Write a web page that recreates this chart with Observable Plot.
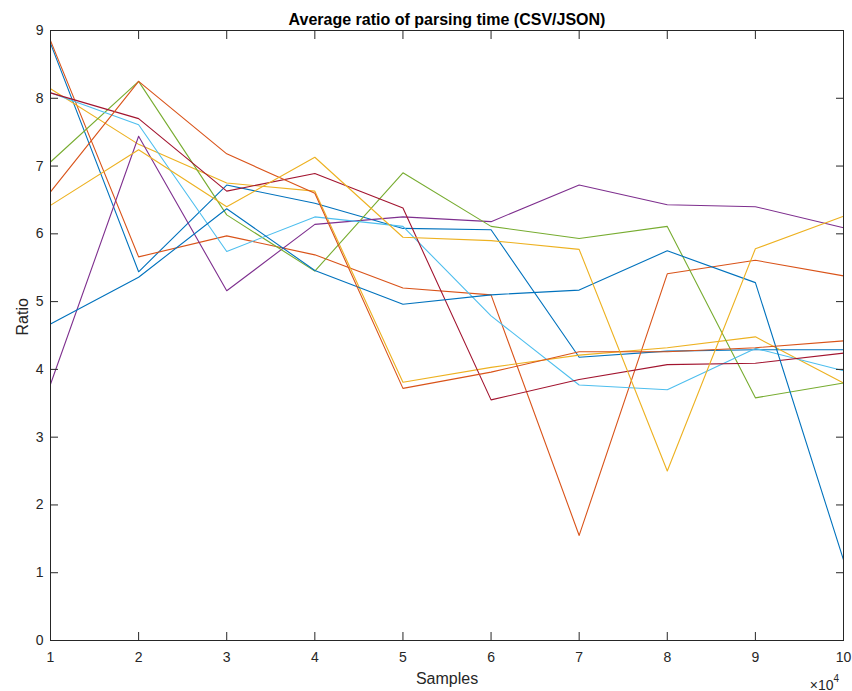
<!DOCTYPE html>
<html><head><meta charset="utf-8">
<script src="https://cdn.jsdelivr.net/npm/d3@7"></script>
<script src="https://cdn.jsdelivr.net/npm/@observablehq/plot@0.6"></script>
<style>
body{margin:0;background:#fff}
#chart svg{font-family:"Liberation Sans",Arial,Helvetica,sans-serif;}
</style>
</head><body><div id="chart"></div>
<script>
// x values (samples) and tick labels
const samples = [10000, 20000, 30000, 40000, 50000, 60000, 70000, 80000, 90000, 100000];
const xTicks = [10000, 20000, 30000, 40000, 50000, 60000, 70000, 80000, 90000, 100000];
const yTicks = [0, 1, 2, 3, 4, 5, 6, 7, 8, 9];

// series values (ratio)
const s1  = [8.81, 5.44, 6.72, 6.45, 6.08, 6.06, 4.18, 4.27, 4.29, 4.29];
const s2  = [8.85, 5.66, 5.97, 5.69, 5.20, 5.10, 1.55, 5.41, 5.61, 5.38];
const s3  = [8.14, 7.32, 6.75, 6.63, 3.81, 4.03, 4.21, 4.32, 4.48, 3.80];
const s4  = [3.78, 7.44, 5.16, 6.14, 6.25, 6.18, 6.72, 6.43, 6.40, 6.09];
const s5  = [7.06, 8.25, 6.28, 5.45, 6.90, 6.11, 5.93, 6.11, 3.58, 3.80];
const s6  = [8.08, 7.61, 5.74, 6.25, 6.11, 4.79, 3.77, 3.70, 4.31, 3.98];
const s7  = [8.08, 7.70, 6.63, 6.89, 6.38, 3.55, 3.85, 4.07, 4.09, 4.24];
const s8  = [4.67, 5.36, 6.37, 5.46, 4.96, 5.10, 5.17, 5.75, 5.28, 1.19];
const s9  = [6.62, 8.25, 7.18, 6.60, 3.72, 3.96, 4.26, 4.26, 4.32, 4.42];
const s10 = [6.42, 7.24, 6.40, 7.13, 5.95, 5.90, 5.77, 2.50, 5.78, 6.26];

const seriesNames = ["s1","s2","s3","s4","s5","s6","s7","s8","s9","s10"];
const seriesValues = [s1, s2, s3, s4, s5, s6, s7, s8, s9, s10];
const colors = ["#0072BD","#D95319","#EDB120","#7E2F8E","#77AC30","#4DBEEE","#A2142F","#0072BD","#D95319","#EDB120"];

const data = seriesValues.flatMap((vals, i) =>
  vals.map((v, j) => ({series: seriesNames[i], x: samples[j], y: v})));

const axisColor = "#262626";

const chart = Plot.plot({
  width: 852,
  height: 691,
  marginLeft: 50,
  marginRight: 9,
  marginTop: 30,
  marginBottom: 51,
  x: {domain: [10000, 100000]},
  y: {domain: [0, 9]},
  color: {domain: seriesNames, range: colors},
  marks: [
    Plot.line(data, {x: "x", y: "y", z: "series", stroke: "series", strokeWidth: 1.1}),
    Plot.frame({stroke: axisColor, strokeWidth: 1}),
    // tick labels
    Plot.axisX({anchor: "bottom", ticks: xTicks, tickSize: 0, tickPadding: 12, tickFormat: d => d / 10000, fontSize: 14, color: axisColor, label: null}),
    Plot.axisY({anchor: "left", ticks: yTicks, tickSize: 0, tickPadding: 7, fontSize: 14, color: axisColor, label: null}),
    // inward ticks on all four sides
    Plot.axisX({anchor: "bottom", ticks: xTicks, tickSize: -8, fill: "none", stroke: axisColor, label: null}),
    Plot.axisX({anchor: "top", ticks: xTicks, tickSize: -8, fill: "none", stroke: axisColor, label: null}),
    Plot.axisY({anchor: "left", ticks: yTicks, tickSize: -8, fill: "none", stroke: axisColor, label: null}),
    Plot.axisY({anchor: "right", ticks: yTicks, tickSize: -8, fill: "none", stroke: axisColor, label: null}),
    // title and labels
    Plot.text(["Average ratio of parsing time (CSV/JSON)"], {frameAnchor: "top", dy: -6, lineAnchor: "bottom", fontSize: 16, fontWeight: "bold", fill: "#000"}),
    Plot.text(["Samples"], {frameAnchor: "bottom", dy: 43, lineAnchor: "bottom", fontSize: 16, fill: axisColor}),
    Plot.text(["Ratio"], {frameAnchor: "left", dx: -28, rotate: -90, lineAnchor: "middle", fontSize: 16, fill: axisColor}),
    Plot.text(["\u00d710"], {frameAnchor: "bottom-right", dx: -10, dy: 49, textAnchor: "end", lineAnchor: "bottom", fontSize: 14, fill: axisColor}),
    Plot.text(["4"], {frameAnchor: "bottom-right", dx: -10, dy: 41, textAnchor: "start", lineAnchor: "bottom", fontSize: 10, fill: axisColor})
  ]
});
document.getElementById("chart").appendChild(chart);
</script>
</body></html>
